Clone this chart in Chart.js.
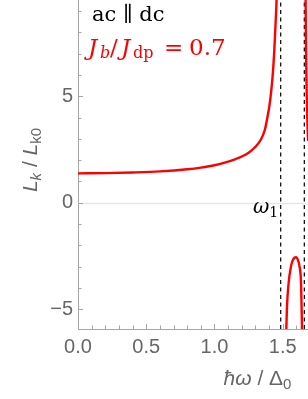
<!DOCTYPE html>
<html>
<head>
<meta charset="utf-8">
<script src="https://cdn.jsdelivr.net/npm/chart.js@4/dist/chart.umd.min.js"></script>
<style>
  html, body { margin: 0; padding: 0; background: #fff; overflow: hidden; }
  #wrap { position: relative; width: 308px; height: 399px; }
</style>
</head>
<body>
<div id="wrap"><canvas id="chart" width="308" height="399"></canvas></div>
<script>
// branch below the first resonance
const branch1Omega = [0, 0.2, 0.4, 0.6, 0.8, 0.9, 1.0, 1.1, 1.15, 1.2, 1.25, 1.3, 1.34, 1.37, 1.39, 1.40, 1.415, 1.43, 1.44, 1.448, 1.455, 1.462, 1.47];
const branch1L     = [1.38, 1.39, 1.42, 1.47, 1.57, 1.65, 1.76, 1.93, 2.04, 2.17, 2.35, 2.63, 2.97, 3.45, 4.1, 4.45, 5.2, 6.3, 7.4, 8.5, 9.6, 11.5, 15];
// negative dome between the two dashed lines
const branch2Omega = [1.515, 1.526, 1.531, 1.543, 1.56, 1.575, 1.597, 1.612, 1.623, 1.634, 1.638, 1.641, 1.645];
const branch2L     = [-8.0, -5.93, -4.88, -3.77, -3.0, -2.68, -2.56, -2.7, -3.0, -3.77, -4.88, -5.93, -7.5];
// branch above the second resonance
const branch3Omega = [1.664, 1.667, 1.670, 1.674, 1.678, 1.682, 1.686, 1.69];
const branch3L     = [14, 10, 7.5, 5.6, 4.4, 3.5, 2.9, 2.4];

const poleOmega = [1.485, 1.658];

const xRange = [0, 1.685];
const yRange = [-5.93, 9.52];
const xTickMajor = [0, 0.5, 1.0, 1.5];
const xTickMinor = [0.1, 0.2, 0.3, 0.4, 0.6, 0.7, 0.8, 0.9, 1.1, 1.2, 1.3, 1.4, 1.6];
const yTickMajor = [-5, 0, 5];
const yTickMinor = [-4, -3, -2, -1, 1, 2, 3, 4, 6, 7, 8, 9];

const RED = "#ff0000";
const GRAY = "#666666";
const AXIS = "#a6a6a6";
const SERIF = '"DejaVu Serif"';

function toPoints(xs, ys) {
    return xs.map((x, i) => ({ x: x, y: ys[i] }));
}

function curve(xs, ys) {
    return {
        data: toPoints(xs, ys),
        borderColor: RED,
        borderWidth: 2.4,
        pointRadius: 0,
        cubicInterpolationMode: "monotone",
        fill: false
    };
}

const datasets = [
    curve(branch1Omega, branch1L),
    curve(branch2Omega, branch2L),
    curve(branch3Omega, branch3L)
];
poleOmega.forEach(w => {
    datasets.push({
        data: [{ x: w, y: yRange[0] }, { x: w, y: yRange[1] }],
        borderColor: "#000",
        borderWidth: 1.2,
        borderDash: [4, 3.5],
        pointRadius: 0,
        fill: false
    });
});

// draws a row of text pieces (text, font, vertical offset)
function drawRuns(ctx, x, y, runs, align) {
    let w = 0;
    runs.forEach(r => { ctx.font = r[1]; w += ctx.measureText(r[0]).width; });
    let cx = align === "center" ? x - w / 2 : x;
    runs.forEach(r => {
        ctx.font = r[1];
        ctx.fillText(r[0], cx, y + (r[2] || 0));
        cx += ctx.measureText(r[0]).width;
    });
}

// pieces placed at fixed x (text, font, x, vertical offset)
function drawPlaced(ctx, y, pieces) {
    pieces.forEach(p => {
        ctx.font = p[1];
        ctx.fillText(p[0], p[2], y + (p[3] || 0));
    });
}

const overlay = {
    id: "overlay",
    beforeDatasetsDraw(chart) {
        const ctx = chart.ctx, area = chart.chartArea;
        const y0 = Math.round(chart.scales.y.getPixelForValue(0)) + 0.5;
        ctx.save();
        ctx.strokeStyle = "#e6e6e6";
        ctx.lineWidth = 1.5;
        ctx.beginPath();
        ctx.moveTo(area.left, y0);
        ctx.lineTo(area.right, y0);
        ctx.stroke();
        ctx.restore();
    },
    afterDatasetsDraw(chart) {
        const ctx = chart.ctx, area = chart.chartArea;
        const sx = chart.scales.x, sy = chart.scales.y;
        ctx.save();
        ctx.strokeStyle = AXIS;
        ctx.lineWidth = 1;
        const tick = (vals, len, horiz) => vals.forEach(v => {
            ctx.beginPath();
            if (horiz) {
                const p = Math.round(sx.getPixelForValue(v)) + 0.5;
                ctx.moveTo(p, area.bottom);
                ctx.lineTo(p, area.bottom - len);
            } else {
                const p = Math.round(sy.getPixelForValue(v)) + 0.5;
                ctx.moveTo(area.left, p);
                ctx.lineTo(area.left + len, p);
            }
            ctx.stroke();
        });
        tick(xTickMajor, 5, true);
        tick(xTickMinor, 3.5, true);
        tick(yTickMajor, 5, false);
        tick(yTickMinor, 3.5, false);

        ctx.textBaseline = "alphabetic";
        ctx.textAlign = "left";

        // annotations
        ctx.fillStyle = "#000";
        drawRuns(ctx, 92, 21, [["ac \u2225 dc", "21px " + SERIF]]);
        ctx.fillStyle = RED;
        drawPlaced(ctx, 55, [
            ["J", "italic 23px " + SERIF, 88],
            ["b", "italic 16px " + SERIF, 100, 3],
            ["/", "23px " + SERIF, 110],
            ["J", "italic 23px " + SERIF, 121],
            ["dp", "16px " + SERIF, 133, 3],
            ["=", "23px " + SERIF, 164],
            ["0.7", "23px " + SERIF, 189]
        ]);
        ctx.fillStyle = "#000";
        drawRuns(ctx, 253, 213, [
            ["\u03c9", "italic 20px " + SERIF],
            ["1", "14px " + SERIF, 4]
        ]);

        // axis titles
        ctx.fillStyle = GRAY;
        drawRuns(ctx, 257.5, 385, [
            ["\u0127\u03c9", 'italic 21px "Liberation Sans"'],
            [" / ", '21px "Liberation Sans"'],
            ["\u0394", '21px "Liberation Sans"'],
            ["0", '15px "Liberation Sans"', 4]
        ], "center");
        ctx.translate(37, 160);
        ctx.rotate(-Math.PI / 2);
        drawRuns(ctx, 0, 0, [
            ["L", 'italic 21px "Liberation Sans"'],
            ["k", 'italic 15px "Liberation Sans"', 4],
            [" / ", '21px "Liberation Sans"'],
            ["L", 'italic 21px "Liberation Sans"'],
            ["k0", '15px "Liberation Sans"', 4]
        ], "center");
        ctx.restore();
    }
};

new Chart(document.getElementById("chart"), {
    type: "line",
    data: { datasets: datasets },
    options: {
        responsive: false,
        animation: false,
        events: [],
        layout: { padding: 0 },
        plugins: { legend: { display: false }, tooltip: { enabled: false } },
        scales: {
            x: {
                type: "linear",
                min: xRange[0],
                max: xRange[1],
                afterBuildTicks: s => { s.ticks = xTickMajor.map(v => ({ value: v })); },
                afterFit: s => { s.height = 70; s.paddingLeft = 0; s.paddingRight = 0; },
                ticks: {
                    color: GRAY,
                    font: { family: "Liberation Sans", size: 20 },
                    padding: 6,
                    autoSkip: false,
                    maxRotation: 0,
                    callback: v => v.toFixed(1)
                },
                grid: { drawOnChartArea: false, drawTicks: false },
                border: { color: AXIS, width: 1 }
            },
            y: {
                type: "linear",
                min: yRange[0],
                max: yRange[1],
                afterBuildTicks: s => { s.ticks = yTickMajor.map(v => ({ value: v })); },
                afterFit: s => { s.width = 78; s.paddingTop = 0; s.paddingBottom = 0; },
                ticks: {
                    color: GRAY,
                    font: { family: "Liberation Sans", size: 20 },
                    padding: 5,
                    autoSkip: false,
                    callback: v => String(v).replace("-", "\u2212")
                },
                grid: { drawOnChartArea: false, drawTicks: false },
                border: { color: AXIS, width: 1 }
            }
        }
    },
    plugins: [overlay]
});
</script>
</body>
</html>
